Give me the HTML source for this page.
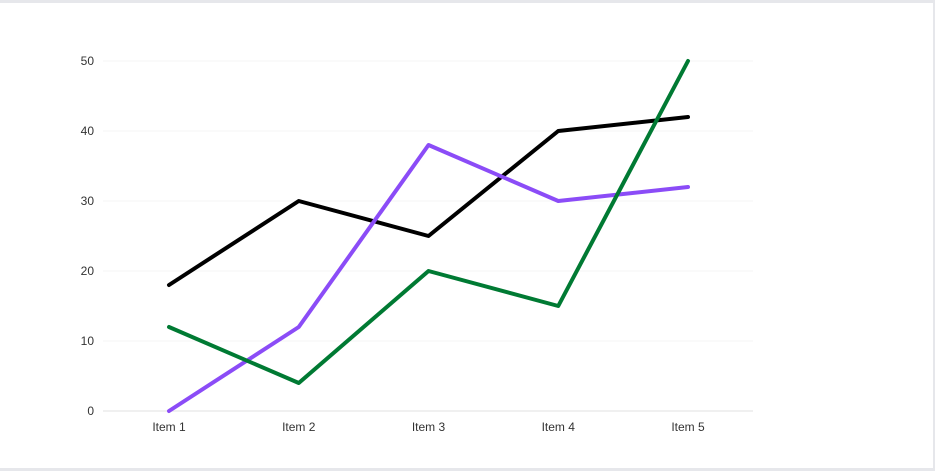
<!DOCTYPE html>
<html><head><meta charset="utf-8"><style>
html,body{margin:0;padding:0;background:#e6e7eb;}
#frame{position:absolute;left:0;top:3px;width:933px;height:465px;background:#fff;}
svg{position:absolute;left:0;top:0;}
text{font-family:"Liberation Sans",sans-serif;font-size:12px;fill:#333;}
</style></head><body>
<div id="frame"></div>
<svg id="chart" width="935" height="471"></svg>
<script>
const categories=["Item 1","Item 2","Item 3","Item 4","Item 5"];
const seriesBlack=[18,30,25,40,42];
const seriesPurple=[0,12,38,30,32];
const seriesGreen=[12,4,20,15,50];
const yTicks=[0,10,20,30,40,50];
const svg=document.getElementById('chart');
const NS='http://www.w3.org/2000/svg';
const x0=169,dx=129.75,yBase=411,yScale=7;
const X=i=>x0+i*dx, Y=v=>yBase-v*yScale;
function mk(t,a){const e=document.createElementNS(NS,t);for(const k in a)e.setAttribute(k,a[k]);svg.appendChild(e);return e;}
yTicks.forEach(v=>{
  const l=mk('line',{x1:103,x2:753,y1:Y(v),y2:Y(v),stroke:v===0?'#ececec':'#f4f4f4','stroke-width':v===0?1.5:1});
  
  
  const t=mk('text',{x:94,y:Y(v)+4,'text-anchor':'end'});t.textContent=v;
  
  
});
categories.forEach((c,i)=>{
  const t=mk('text',{x:X(i),y:431,'text-anchor':'middle'});t.textContent=c;
  
  
});
[[seriesBlack,'#000','series-black'],[seriesPurple,'#8b4cf7','series-purple'],[seriesGreen,'#007a33','series-green']].forEach(([d,c,n])=>{
  const p=mk('polyline',{points:d.map((v,i)=>X(i)+','+Y(v)).join(' '),fill:'none',stroke:c,'stroke-width':4,'stroke-linejoin':'round','stroke-linecap':'round'});
  
  
});
</script>
</body></html>
